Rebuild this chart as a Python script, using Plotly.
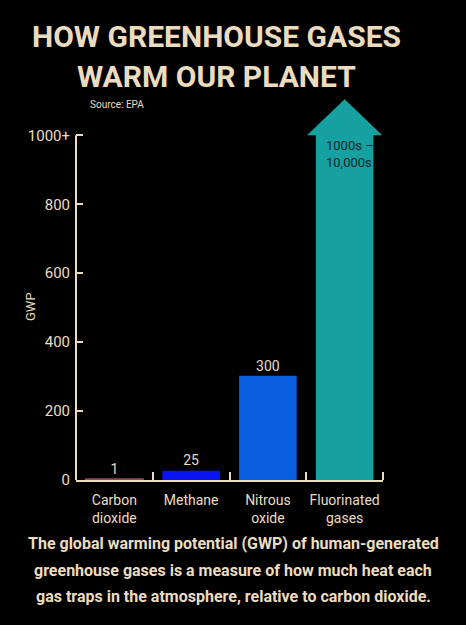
import plotly.graph_objects as go

categories = ["Carbon<br>dioxide", "Methane", "Nitrous<br>oxide", "Fluorinated<br>gases"]
gwp_values = [1, 25, 300, 1000]
value_labels = ["1", "25", "300", ""]
arrow_label = "1000s –<br>10,000s"
bar_colors = ["#8C4A5C", "#0A14EE", "#0A5EE0", "#17A0A0"]
y_tickvals = [0, 200, 400, 600, 800, 1000]
y_ticktext = ["0", "200", "400", "600", "800", "1000+"]
title_lines = ["HOW GREENHOUSE GASES", "WARM OUR PLANET"]
note_lines = ["The global warming potential (GWP) of human-generated",
              "greenhouse gases is a measure of how much heat each",
              "gas traps in the atmosphere, relative to carbon dioxide."]

CREAM = "#EBDCC0"
FONT = "Roboto, Liberation Sans, sans-serif"

L, R, T, B = 76, 83, 94, 145
PW = 466 - L - R
x_idx = list(range(len(categories)))


def px_x(px):
    return (px - L) / PW


fig = go.Figure()
fig.add_trace(go.Bar(
    x=x_idx, y=gwp_values, width=0.73,
    marker=dict(color=bar_colors, line=dict(color=bar_colors, width=[3, 1.5, 1.5, 1.5])),
    text=value_labels, textposition="outside", cliponaxis=False,
    textfont=dict(color=CREAM, size=14, family=FONT),
    hoverinfo="skip",
))

# arrow head on top of the fluorinated gases bar
top = gwp_values[3]
head_h = 105
cx = x_idx[3]
fig.add_trace(go.Scatter(
    x=[cx - 0.49, cx, cx + 0.49, cx - 0.49],
    y=[top, top + head_h, top, top],
    fill="toself", fillcolor=bar_colors[3], mode="lines",
    line=dict(color=bar_colors[3], width=0), hoverinfo="skip",
))
fig.add_annotation(
    x=cx - 0.27, y=top, xref="x", yref="y", text=arrow_label,
    showarrow=False, xanchor="left", yanchor="top", align="left", yshift=-1,
    font=dict(color="#10282A", size=13, family=FONT),
)

# y axis line (stops at 1000)
fig.add_shape(type="line", xref="paper", yref="y", x0=0, x1=0, y0=0, y1=1000,
              line=dict(color=CREAM, width=2), layer="above")

fig.update_layout(
    width=466, height=625,
    paper_bgcolor="#000000", plot_bgcolor="#000000",
    margin=dict(l=L, r=R, t=T, b=B),
    showlegend=False, hovermode=False,
    font=dict(family=FONT, color=CREAM),
    xaxis=dict(
        range=[-0.5, 3.5], tickvals=x_idx, ticktext=categories,
        ticks="", showline=True, linecolor=CREAM, linewidth=2,
        showgrid=False, zeroline=False, layer="below traces", automargin=False,
        ticklabelstandoff=6,
        tickfont=dict(size=14, color=CREAM, family=FONT),
        minor=dict(tickvals=[0.5, 1.5, 2.5, 3.5], ticks="inside",
                   ticklen=8, tickwidth=2, tickcolor=CREAM, showgrid=False),
    ),
    yaxis=dict(
        range=[0, 1120], tickvals=y_tickvals, ticktext=y_ticktext,
        ticks="inside", ticklen=7, tickwidth=2, tickcolor=CREAM,
        showline=False, showgrid=False, zeroline=False, automargin=False,
        ticklabelstandoff=5,
        tickfont=dict(size=15, color=CREAM, family=FONT),
    ),
)

# y axis title
fig.add_annotation(
    xref="paper", yref="paper", x=px_x(30), y=1 - (307 - T) / (625 - T - B),
    text="GWP", textangle=-90, showarrow=False,
    xanchor="center", yanchor="middle",
    font=dict(size=13, color=CREAM, family=FONT),
)

# title lines
for line, cy in zip(title_lines, [36, 76]):
    fig.add_annotation(
        xref="paper", yref="paper", x=px_x(216), y=1, yanchor="middle",
        yshift=T - cy, xanchor="center", text="<b>" + line + "</b>",
        showarrow=False, font=dict(size=30, color=CREAM, family=FONT),
    )

fig.add_annotation(
    xref="paper", yref="paper", x=px_x(88), y=1, yanchor="middle",
    yshift=T - 104, xanchor="left", text="Source: EPA", showarrow=False,
    font=dict(size=10, color=CREAM, family=FONT),
)

for line, cy in zip(note_lines, [543, 570, 596]):
    fig.add_annotation(
        xref="paper", yref="paper", x=px_x(233), y=0, yanchor="middle",
        yshift=-(cy - (625 - B)), xanchor="center",
        text="<b>" + line + "</b>", showarrow=False,
        font=dict(size=16, color=CREAM, family=FONT),
    )

fig.write_html("out.html")
